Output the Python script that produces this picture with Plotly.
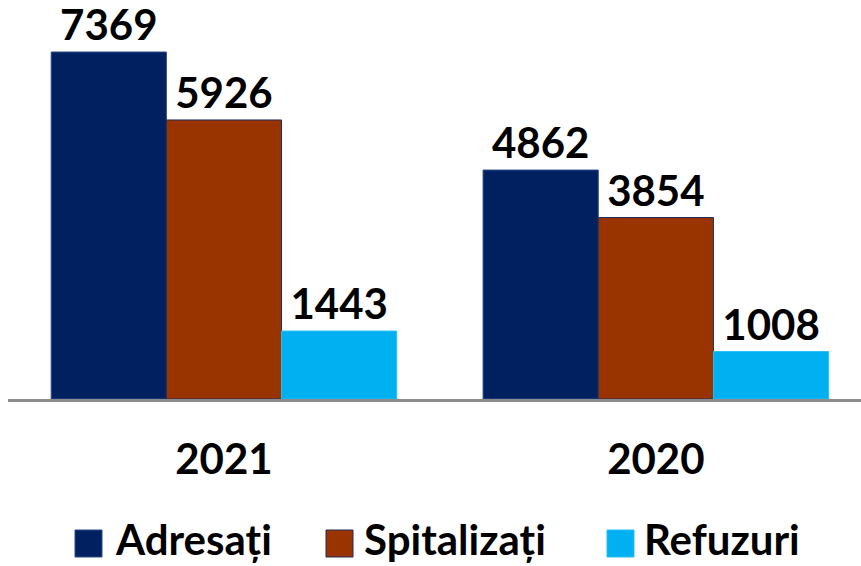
import plotly.graph_objects as go

categories = ["2021", "2020"]
series_names = ["Adresați", "Spitalizați", "Refuzuri"]
adresati = [7369, 4862]
spitalizati = [5926, 3854]
refuzuri = [1443, 1008]

colors = ["#002060", "#993300", "#00B0F0"]
line_colors = ["#2a4a8a", "#1f2d5a", "#27bff5"]
FONT = "Lato"

W, H = 861, 566
L, T, B = 8, 20, 399          # plot area in pixels
R = 0
PW, PH = W - L - R, B - T

def px(x):
    return (x - L) / PW

def py(y):
    return (B - y) / PH

fig = go.Figure()
for name, vals, c, lc in zip(series_names, [adresati, spitalizati, refuzuri], colors, line_colors):
    fig.add_trace(go.Bar(
        x=categories, y=vals, name=name, showlegend=False,
        marker=dict(color=c, line=dict(color=lc, width=1)),
        text=[str(v) for v in vals], textposition="outside",
        textfont=dict(family=FONT, size=42, color="black", weight="bold"),
        cliponaxis=False,
    ))

# manual legend (pixel positions)
legend_sq_x = [75, 326, 607]
legend_txt_x = [114, 363, 643]
for name, c, lc, sx, tx in zip(series_names, colors, line_colors, legend_sq_x, legend_txt_x):
    fig.add_shape(type="rect", xref="paper", yref="paper",
                  x0=px(sx), x1=px(sx + 27), y0=py(557), y1=py(530),
                  fillcolor=c, line=dict(color=lc, width=1))
    fig.add_annotation(xref="paper", yref="paper", x=px(tx), y=py(539),
                       xanchor="left", yanchor="middle", showarrow=False,
                       text=name, borderpad=0,
                       font=dict(family=FONT, size=42, color="black", weight="bold"))

fig.update_layout(
    width=W, height=H,
    margin=dict(l=L, r=R, t=T, b=H - B, autoexpand=False),
    plot_bgcolor="white", paper_bgcolor="white",
    barmode="group", bargap=0.2, bargroupgap=0,
    showlegend=False,
    xaxis=dict(range=[-0.5, 1.475], showline=True, linecolor="#8c8c8c", linewidth=3,
               tickfont=dict(family=FONT, size=42, color="black", weight="bold"),
               ticks="", ticklabelstandoff=22, automargin=False),
    yaxis=dict(range=[0, 8049], visible=False, showgrid=False, automargin=False),
)
fig.write_html("out.html", config={"displayModeBar": False},
               post_script="document.body.style.margin='0';document.body.style.overflow='hidden';")
